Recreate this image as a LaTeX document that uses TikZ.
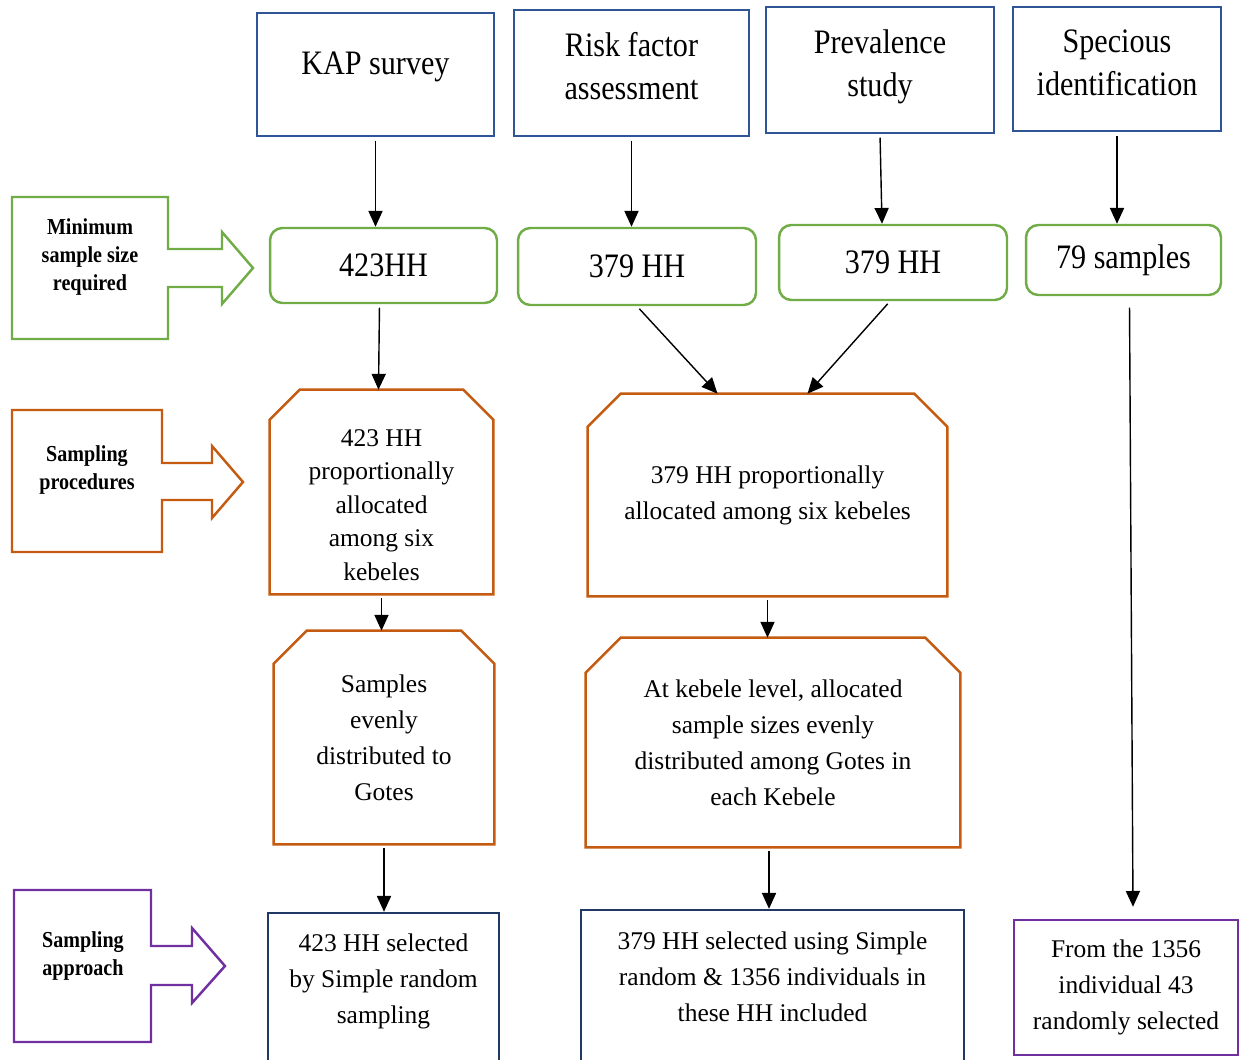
\documentclass[tikz,border=0pt]{standalone}
\usepackage{fontspec}
\setmainfont{Liberation Serif}
\newfontfamily\condserif[FakeStretch=0.88]{Liberation Serif}
\usetikzlibrary{calc,arrows.meta}

\definecolor{topblue}{HTML}{2F5597}
\definecolor{sizegreen}{HTML}{70AD47}
\definecolor{procorange}{HTML}{C55A11}
\definecolor{selnavy}{HTML}{1F3864}
\definecolor{specpurple}{HTML}{7030A0}

% outline with the two upper corners cut off: node, cut, colour
\newcommand{\cutbox}[3]{%
  \draw[#3,line width=1.4pt] (#1.south west) -- ($(#1.north west)+(0,#2)$) -- ($(#1.north west)+(#2,0)$)
    -- ($(#1.north east)+(-#2,0)$) -- ($(#1.north east)+(0,#2)$) -- (#1.south east) -- cycle;}

\begin{document}
\begin{tikzpicture}
    [   x=0.02cm, y=-0.02cm,
        toptext/.style={font=\condserif\fontsize{19.5}{24.5}\selectfont,align=center},
        topbox/.style={draw=topblue,line width=1.4pt,inner sep=0pt},
        hhbox/.style={draw=sizegreen,line width=1.4pt,rounded corners=7pt,inner sep=0pt,
            font=\condserif\fontsize{19.5}{24}\selectfont},
        bodytext/.style={font=\fontsize{14.5}{20.5}\selectfont,align=center},
        cbox/.style={bodytext,inner sep=0pt},
        selbox/.style={draw=#1,line width=1.4pt,inner sep=0pt,bodytext},
        sidetext/.style={font=\condserif\bfseries\fontsize{13}{16}\selectfont,align=center},
        flow/.style={-{Triangle[length=9pt,width=8pt]},line width=0.8pt,shorten <=2pt},
    ]
        \useasboundingbox (0,0) rectangle (1244,1059);
        \clip (0,0) rectangle (1244,1059);

        % study components
        \node[topbox,minimum width=4.74cm,minimum height=2.46cm,
            label={[toptext,yshift=4.3pt]center:KAP survey}] (kap) at (375.5,74.5) {};
        \node[topbox,minimum width=4.70cm,minimum height=2.52cm,
            label={[toptext,yshift=4pt]center:{Risk factor\\assessment}}] (risk) at (631.5,73) {};
        \node[topbox,minimum width=4.56cm,minimum height=2.52cm,
            label={[toptext,yshift=2pt]center:{Prevalence\\study}}] (prev) at (880,70) {};
        \node[topbox,minimum width=4.16cm,minimum height=2.48cm,
            label={[toptext,yshift=3.5pt]center:{Specious\\identification}}] (spec) at (1117,69) {};

        % minimum sample sizes
        \node[hhbox,minimum width=4.54cm,minimum height=1.50cm] (g1) at (383.5,265.5) {423HH};
        \node[hhbox,minimum width=4.76cm,minimum height=1.54cm] (g2) at (637,266.5) {379 HH};
        \node[hhbox,minimum width=4.56cm,minimum height=1.50cm] (g3) at (893,262.5) {379 HH};
        \node[hhbox,minimum width=3.90cm,minimum height=1.40cm] (g4) at (1123.5,260) {79 samples};

        % sampling procedures
        \node[cbox,minimum width=4.46cm,minimum height=4.08cm,
            label={[bodytext,font=\fontsize{14.5}{19}\selectfont,yshift=-7.4pt]center:{423 HH\\proportionally\\allocated\\among six\\kebeles}}] (a) at (381.5,492) {};
        \node[cbox,minimum width=7.18cm,minimum height=4.04cm] (b) at (767.5,495)
            {379 HH proportionally\\allocated among six kebeles};
        \node[cbox,minimum width=4.40cm,minimum height=4.26cm] (c) at (384,737.5)
            {Samples\\evenly\\distributed to\\Gotes};
        \node[cbox,minimum width=7.48cm,minimum height=4.18cm] (d) at (773,742.5)
            {At kebele level, allocated\\sample sizes evenly\\distributed among Gotes in\\each Kebele};
        \cutbox{a}{30}{procorange}
        \cutbox{b}{33}{procorange}
        \cutbox{c}{33}{procorange}
        \cutbox{d}{35}{procorange}

        % sampling approach
        \node[selbox=selnavy,minimum width=4.62cm,minimum height=4cm,
            label={[bodytext,yshift=18.2pt]center:{423 HH selected\\by Simple random\\sampling}}] (s1) at (383.5,1013) {};
        \node[selbox=selnavy,minimum width=7.66cm,minimum height=4cm,
            label={[bodytext,yshift=18.8pt]center:{379 HH selected using Simple\\random \& 1356 individuals in\\these HH included}}] (s2) at (772.5,1010) {};
        \node[selbox=specpurple,minimum width=4.48cm,minimum height=2.70cm] (s3) at (1126,987.5)
            {From the 1356\\individual 43\\randomly selected};

        % side markers
        \draw[sizegreen,line width=1.4pt] (12,197) -- (168,197) -- (168,249) -- (222,249) -- (222,232)
            -- (253,268) -- (222,304) -- (222,287) -- (168,287) -- (168,339) -- (12,339) -- cycle;
        \draw[procorange,line width=1.4pt] (12,410) -- (162,410) -- (162,463) -- (212,463) -- (212,446)
            -- (243,482) -- (212,518) -- (212,500) -- (162,500) -- (162,552) -- (12,552) -- cycle;
        \draw[specpurple,line width=1.4pt] (14,890) -- (151,890) -- (151,946) -- (192,946) -- (192,928)
            -- (225,966) -- (192,1003) -- (192,985) -- (151,985) -- (151,1042) -- (14,1042) -- cycle;
        \node[sidetext] (minsize) at (90,257) {Minimum\\sample size\\required};
        \node[sidetext] (proc) at (87,470) {Sampling\\procedures};
        \node[sidetext] (appr) at (83,956) {Sampling\\approach};

        % connectors
        \draw[flow] (kap.south) -- (kap.south |- g1.north);
        \draw[flow] (risk.south) -- (risk.south |- g2.north);
        \draw[flow] (prev.south) -- ($(prev.south |- g3.north)+(2,0)$);
        \draw[flow] (spec.south) -- (spec.south |- g4.north);
        \draw[flow] ($(g1.south)+(-4,0)$) -- ($(a.north)+(-3,0)$);
        \draw[flow] (g2.south) -- ($(b.north)+(-50,0)$);
        \draw[flow] ($(g3.south)+(-3,0)$) -- ($(b.north)+(40,0)$);
        \draw[flow] (a.south) -- (a.south |- c.north);
        \draw[flow] (b.south) -- (b.south |- d.north);
        \draw[flow] (c.south) -- (c.south |- s1.north);
        \draw[flow] ($(d.south)+(-4,0)$) -- ($(d.south |- s2.north)+(-4,0)$);
        \draw[flow] ($(g4.south)+(6,8)$) -- ($(s3.north)+(7,-12)$);
\end{tikzpicture}
\end{document}
